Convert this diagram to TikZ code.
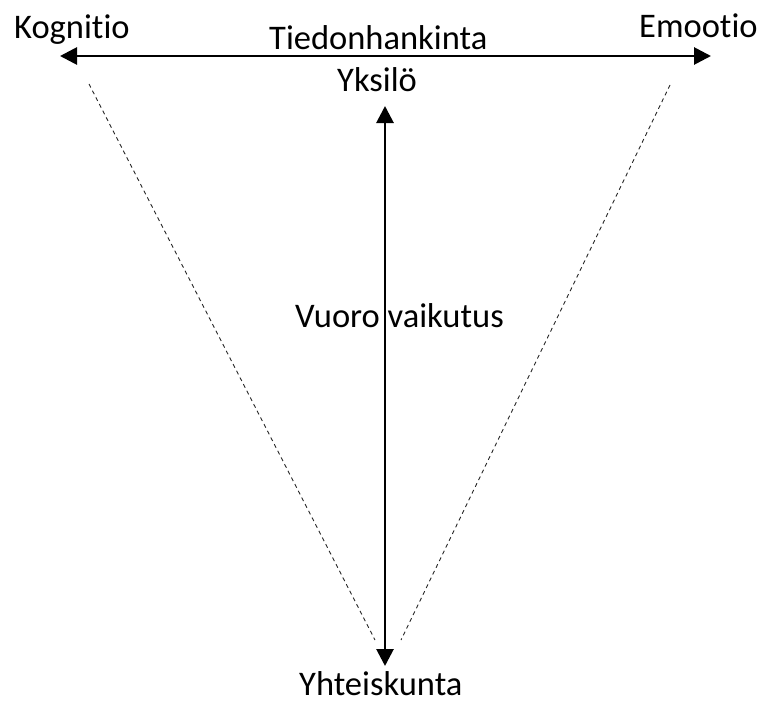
\documentclass[tikz,border=0pt]{standalone}
\usepackage{fontspec}
\setmainfont[Ligatures=NoCommon]{Carlito}
\usetikzlibrary{arrows.meta}
\begin{document}
\begin{tikzpicture}[x=1pt,y=-1pt,
  lbl/.style={anchor=base west,inner sep=0pt,font=\fontsize{34.5}{40}\selectfont,text=black},
  mainarrow/.style={line width=2.8pt,{Triangle[length=17pt,width=17pt]}-{Triangle[length=17pt,width=17pt]}},
  guide/.style={line width=0.9pt,dash pattern=on 4pt off 3.5pt,black!85}]
\useasboundingbox (0,0) rectangle (763,704);
\node[lbl] (kog) at (14,38) {Kognitio};
\node[lbl] (tie) at (269,49) {Tiedonhankinta};
\node[lbl] (emo) at (639,37) {Emootio};
\node[lbl] (yks) at (337,91) {Yksilö};
\node[lbl] (vuo) at (295,327) {Vuoro vaikutus};
\node[lbl] (yht) at (299,695) {Yhteiskunta};
\coordinate (hl) at (60,56);
\coordinate (hr) at (711,56);
\coordinate (vt) at (385,106);
\coordinate (vb) at (385,666);
\coordinate (dl1) at (89,84);
\coordinate (dl2) at (375,640);
\coordinate (dr1) at (670,85);
\coordinate (dr2) at (401,640);
\draw[guide] (dl1) -- (dl2);
\draw[guide] (dr1) -- (dr2);
\draw[mainarrow] (hl) -- (hr);
\draw[mainarrow] (vt) -- (vb);
\end{tikzpicture}
\end{document}
